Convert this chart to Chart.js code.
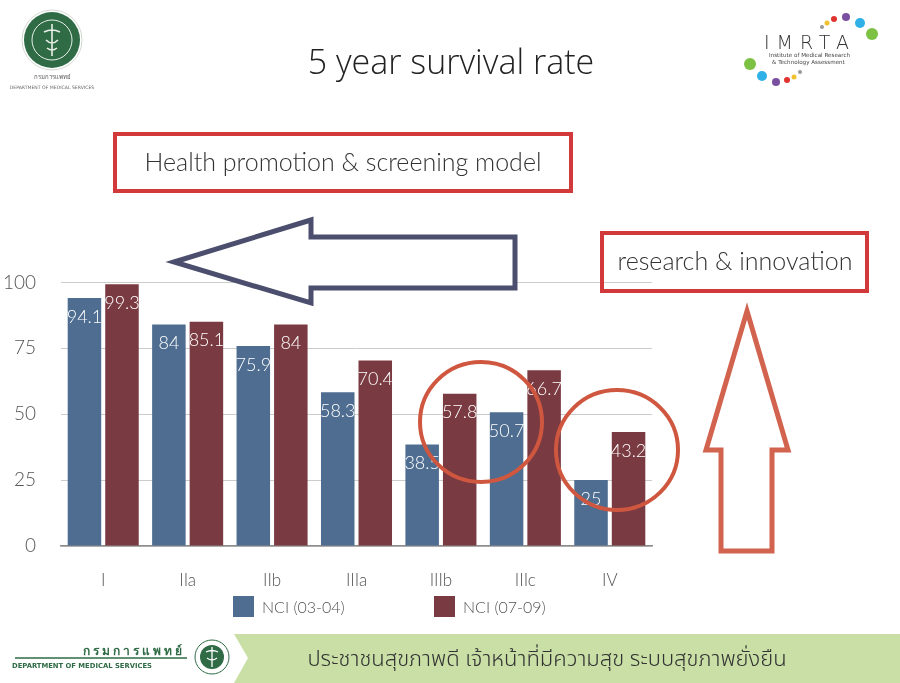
<!DOCTYPE html>
<html>
<head>
<meta charset="utf-8">
<script src="https://cdn.jsdelivr.net/npm/chart.js@4.4.1/dist/chart.umd.min.js"></script>
<style>
  html, body { margin:0; padding:0; background:#fff; }
  body { width:900px; height:683px; position:relative; overflow:hidden; font-family: Lato, "Open Sans", sans-serif; }
  #wrap { position:absolute; left:0; top:246px; width:680px; height:384px; }
  #ov { position:absolute; left:0; top:0; width:900px; height:683px; pointer-events:none; }
  .legend { position:absolute; top:596px; display:flex; align-items:center; font: 300 16px Lato, sans-serif; color:#555; }
  .legend span.sw { display:inline-block; width:21px; height:21px; margin-right:8px; }
</style>
</head>
<body>
<div id="wrap"><canvas id="c"></canvas></div>
<div id="leg"></div>
<svg id="ov" viewBox="0 0 900 683" xmlns="http://www.w3.org/2000/svg">
  <!-- Title -->
  <text x="451" y="74" text-anchor="middle" font-family="'Open Sans', 'Noto Sans', sans-serif" font-weight="300" font-size="34" fill="#222">5 year survival rate</text>

  <!-- Top-left logo -->
  <circle cx="52" cy="40" r="30" fill="#fff" stroke="#cfd8cf" stroke-width="1"/>
  <circle cx="52" cy="40" r="28" fill="#2f6b45"/>
  <circle cx="52" cy="40" r="20" fill="none" stroke="#e8efe8" stroke-width="1"/>
  <path d="M52,24 L52,56 M44,32 Q52,28 60,32 M46,40 Q52,46 58,40 M47,48 Q52,52 57,48" stroke="#e8efe8" stroke-width="1.6" fill="none"/>
  <text x="52" y="79" text-anchor="middle" font-size="6" fill="#555" font-family="'Noto Sans', sans-serif">กรมการแพทย์</text>
  <text x="52" y="89" text-anchor="middle" font-size="4.6" fill="#666" font-family="'DejaVu Sans', sans-serif">DEPARTMENT OF MEDICAL SERVICES</text>

  <!-- IMRTA logo -->
  <text x="810" y="49" text-anchor="middle" font-size="19" letter-spacing="7" fill="#333" font-family="'DejaVu Sans', sans-serif" font-weight="300">IMRTA</text>
  <text x="769" y="57" font-size="5.6" fill="#444" font-family="'DejaVu Sans', sans-serif">Institute of Medical Research</text>
  <text x="772" y="64" font-size="5.6" fill="#444" font-family="'DejaVu Sans', sans-serif">&amp; Technology Assessment</text>
  <circle cx="822" cy="27" r="2" fill="#999"/>
  <circle cx="827" cy="23" r="2.5" fill="#f2c12e"/>
  <circle cx="834" cy="19" r="3" fill="#e0322f"/>
  <circle cx="846" cy="17" r="4" fill="#7a4fa0"/>
  <circle cx="860" cy="23" r="5" fill="#2fb0e6"/>
  <circle cx="872" cy="34" r="6" fill="#7cc143"/>
  <circle cx="750" cy="64" r="6" fill="#7cc143"/>
  <circle cx="762" cy="76" r="5" fill="#2fb0e6"/>
  <circle cx="776" cy="82" r="4" fill="#7a4fa0"/>
  <circle cx="787" cy="80" r="3" fill="#e0322f"/>
  <circle cx="794" cy="77" r="2.5" fill="#f2c12e"/>
  <circle cx="800" cy="72" r="2" fill="#999"/>

  <!-- Health promotion box -->
  <rect x="115" y="134" width="456" height="57" fill="none" stroke="#d2393b" stroke-width="4"/>
  <text x="343" y="171" text-anchor="middle" font-family="Lato, 'Open Sans', sans-serif" font-weight="300" font-size="25" fill="#333">Health promotion &amp; screening model</text>

  <!-- Research box -->
  <rect x="602" y="233" width="265" height="58" fill="none" stroke="#d2393b" stroke-width="4"/>
  <text x="735" y="270" text-anchor="middle" font-family="Lato, 'Open Sans', sans-serif" font-weight="300" font-size="25" fill="#333">research &amp; innovation</text>

  <!-- Left arrow (navy, hollow) -->
  <path d="M174,262 L311,220 L311,237 L515,237 L515,288 L311,288 L311,303 Z" fill="#fff" stroke="#4b4f6d" stroke-width="5" stroke-linejoin="miter"/>

  <!-- Up arrow (coral, hollow) -->
  <path d="M747,311 L788,450 L772,450 L772,551 L721,551 L721,450 L706,450 Z" fill="#fff" stroke="#d2634f" stroke-width="5" stroke-linejoin="miter"/>

  <!-- Circles -->
  <ellipse cx="481" cy="422" rx="61" ry="60" fill="none" stroke="#d0573f" stroke-width="4"/>
  <ellipse cx="617" cy="450" rx="61" ry="60" fill="none" stroke="#d0573f" stroke-width="4"/>

  <!-- Footer -->
  <path d="M234,634 L900,634 L900,683 L234,683 L248,658 Z" fill="#c9dfa6"/>
  <text x="547" y="666" text-anchor="middle" font-size="22" fill="#333" font-weight="300" font-family="'Noto Sans Thai', 'Noto Sans', 'DejaVu Sans', sans-serif">ประชาชนสุขภาพดี เจ้าหน้าที่มีความสุข ระบบสุขภาพยั่งยืน</text>
  <text x="185" y="655" text-anchor="end" font-size="12" letter-spacing="3" fill="#2f6b45" font-weight="bold" font-family="'Noto Sans', sans-serif">กรมการแพทย์</text>
  <line x1="15" y1="658" x2="187" y2="658" stroke="#2f6b45" stroke-width="1.5"/>
  <text x="12" y="668" font-size="6.8" fill="#2f6b45" font-family="'DejaVu Sans', sans-serif" font-weight="bold">DEPARTMENT OF MEDICAL SERVICES</text>
  <circle cx="212" cy="657" r="17" fill="#fff" stroke="#2f6b45" stroke-width="1"/>
  <circle cx="212" cy="657" r="12" fill="#2f6b45"/>
  <path d="M212,647 L212,667 M206,652 Q212,649 218,652 M207,658 Q212,662 217,658" stroke="#fff" stroke-width="1.3" fill="none"/>
</svg>

<script>
// ---- Data ----
const categories = ["I", "IIa", "IIb", "IIIa", "IIIb", "IIIc", "IV"];
const seriesNames = ["NCI (03-04)", "NCI (07-09)"];
const nci0304 = [94.1, 84, 75.9, 58.3, 38.5, 50.7, 25];
const nci0709 = [99.3, 85.1, 84, 70.4, 57.8, 66.7, 43.2];
const yTicks = [0, 25, 50, 75, 100];

const colors = ["#4e6d90", "#7a3a41"];

// HTML legend built from series names
const leg = document.getElementById('leg');
[[233, 0], [434, 1]].forEach(([x, i]) => {
  const d = document.createElement('div');
  d.className = 'legend';
  d.style.left = x + 'px';
  d.innerHTML = '<span class="sw" style="background:' + colors[i] + '"></span>' + seriesNames[i];
  leg.appendChild(d);
});

const valueLabels = {
  id: 'valueLabels',
  afterDatasetsDraw(chart) {
    const ctx = chart.ctx;
    ctx.save();
    ctx.fillStyle = '#ffffff';
    ctx.font = '300 18px Lato, sans-serif';
    ctx.textAlign = 'center';
    ctx.textBaseline = 'middle';
    chart.data.datasets.forEach((ds, di) => {
      const meta = chart.getDatasetMeta(di);
      meta.data.forEach((el, i) => {
        ctx.fillText(String(ds.data[i]), el.x, el.y + 19);
      });
    });
    ctx.restore();
  }
};

new Chart(document.getElementById('c'), {
  type: 'bar',
  data: {
    labels: categories,
    datasets: [
      { label: seriesNames[0], data: nci0304, backgroundColor: colors[0] },
      { label: seriesNames[1], data: nci0709, backgroundColor: colors[1] }
    ]
  },
  options: {
    responsive: true,
    maintainAspectRatio: false,
    animation: false,
    categoryPercentage: 0.889,
    barPercentage: 0.893,
    layout: { padding: { left: 0, right: 28, top: 0, bottom: 0 } },
    plugins: { legend: { display: false }, tooltip: { enabled: false } },
    scales: {
      x: {
        grid: { display: false, drawTicks: false },
        border: { display: true, color: '#8c8c8c', width: 1.5 },
        ticks: { color: '#555', font: { family: 'Lato, sans-serif', size: 17, weight: '300' }, padding: 24 },
        afterFit(scale) { scale.height = 84; }
      },
      y: {
        min: 0, max: 100,
        afterBuildTicks(scale) { scale.ticks = yTicks.map(v => ({ value: v })); },
        grid: { color: '#cccccc', lineWidth: 1, drawTicks: false },
        border: { display: false },
        ticks: { color: '#555', font: { family: 'Lato, sans-serif', size: 19, weight: '300' }, padding: 25 },
        afterFit(scale) { scale.width = 61; }
      }
    }
  },
  plugins: [valueLabels]
});
</script>
</body>
</html>
